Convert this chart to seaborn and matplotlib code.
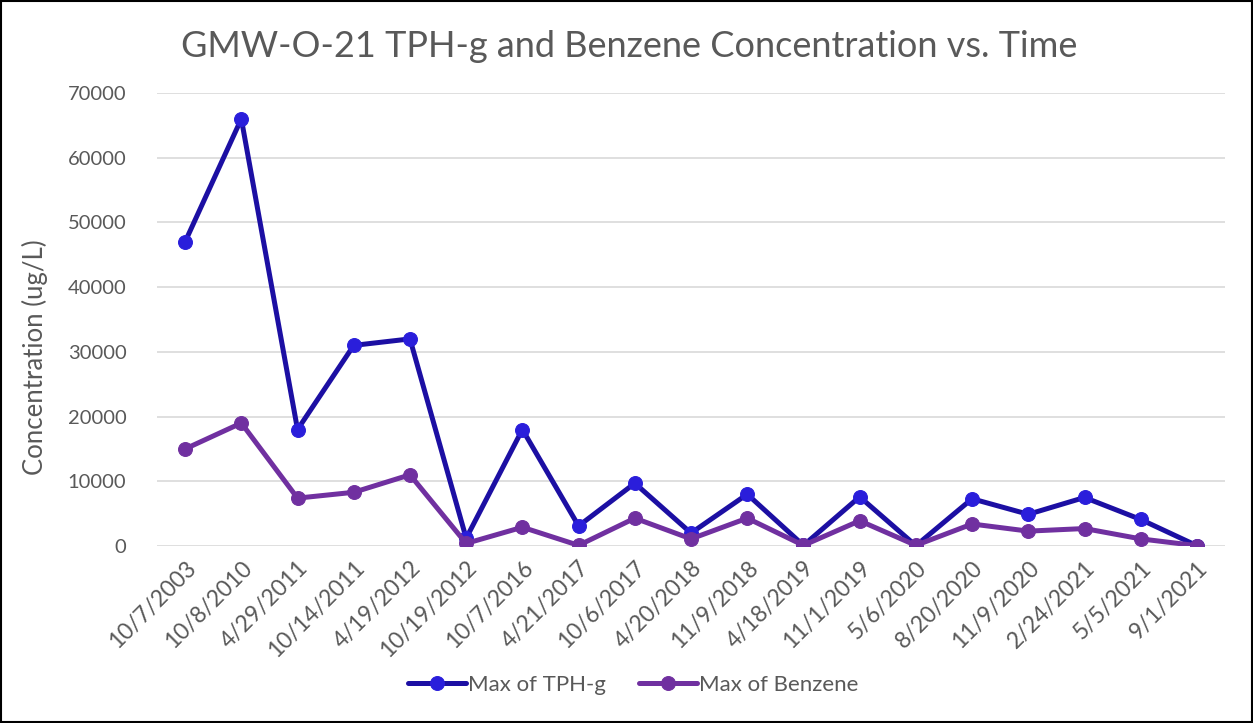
import matplotlib
matplotlib.use('Agg')
import matplotlib.pyplot as plt
import pandas as pd
import seaborn as sns
from matplotlib.patches import Rectangle

sns.set_theme(style='white')
plt.rcParams['font.family'] = ['Lato', 'DejaVu Sans']

dates = ['10/7/2003', '10/8/2010', '4/29/2011', '10/14/2011', '4/19/2012', '10/19/2012',
         '10/7/2016', '4/21/2017', '10/6/2017', '4/20/2018', '11/9/2018', '4/18/2019',
         '11/1/2019', '5/6/2020', '8/20/2020', '11/9/2020', '2/24/2021', '5/5/2021', '9/1/2021']
tph_g = [47000, 66000, 18000, 31000, 32000, 1200, 18000, 3100, 9700, 2000, 8000, 100,
         7600, 50, 7300, 4900, 7500, 4100, 50]
benzene = [15000, 19000, 7400, 8300, 11000, 400, 2900, 100, 4300, 1100, 4300, 100,
           3900, 100, 3400, 2300, 2700, 1100, 50]

df = pd.DataFrame({'idx': range(len(dates)), 'date': dates, 'tph': tph_g, 'benz': benzene})

gray = '#595959'
fig = plt.figure(figsize=(12.53, 7.23), dpi=100)
ax = fig.add_axes([0.1253, 0.2448, 0.8524, 0.6266])

sns.lineplot(data=df, x='idx', y='tph', ax=ax, color='#1C0FA3', lw=3.6, marker='o',
             markersize=10, markerfacecolor='#2A1EDB', markeredgecolor='#2A1EDB',
             label='Max of TPH-g')
sns.lineplot(data=df, x='idx', y='benz', ax=ax, color='#7030A0', lw=3.6, marker='o',
             markersize=10, markerfacecolor='#7030A0', markeredgecolor='#7030A0',
             label='Max of Benzene')

ax.set_xlim(-0.5, len(dates) - 0.5)
ax.set_ylim(0, 70000)
ax.set_yticks(range(0, 70001, 10000))
ax.set_xticks(range(len(dates)))
ax.set_xticklabels(dates, rotation=45, ha='right', rotation_mode='anchor')
ax.tick_params(axis='both', colors=gray, length=0)
ax.tick_params(axis='y', pad=22, labelsize=14.5)
ax.tick_params(axis='x', pad=8, labelsize=16.5)
ax.grid(axis='y', color='#D9D9D9', lw=1.2)
ax.set_axisbelow(True)
for s in ax.spines.values():
    s.set_visible(False)
ax.set_xlabel('')
ax.set_ylabel('')

fig.text(0.502, 0.935, 'GMW-O-21 TPH-g and Benzene Concentration vs. Time', ha='center',
         va='center', fontsize=26, color=gray)
fig.text(0.028, 0.506, 'Concentration (ug/L)', rotation=90, ha='center', va='center',
         fontsize=18.5, color=gray)

ax.legend(loc='center', bbox_to_anchor=(0.5055, 0.0526), bbox_transform=fig.transFigure,
          ncol=2, frameon=False, fontsize=16, labelcolor=gray, handlelength=2.6,
          handletextpad=0.1, columnspacing=1.5)

fig.patches.append(Rectangle((0.001, 0.001), 0.998, 0.997, transform=fig.transFigure,
                             fill=False, edgecolor='black', lw=1.5))

fig.savefig('out.png', dpi=100)
